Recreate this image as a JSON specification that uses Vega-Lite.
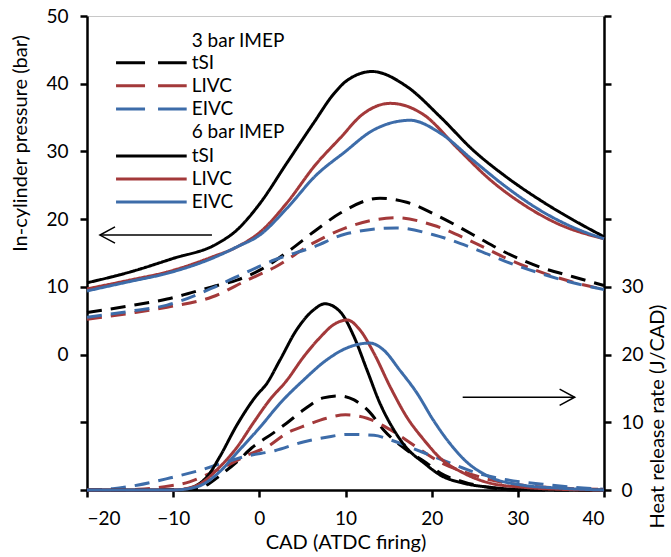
{
  "$schema": "https://vega.github.io/schema/vega-lite/v6.json",
  "width": 517,
  "height": 474,
  "autosize": {"type": "none"},
  "padding": {"left": 87, "top": 16, "right": 67, "bottom": 67},
  "background": "white",
  "config": {
    "view": {"stroke": "#C8C8C8", "strokeWidth": 1},
    "font": "Lato",
    "axis": {
      "labelFont": "Lato", "labelFontSize": 19, "labelColor": "#000000",
      "titleFont": "Lato", "titleFontSize": 20, "titleFontWeight": "normal", "titleColor": "#000000",
      "domainColor": "#000000", "domainWidth": 2.5, "tickColor": "#000000", "tickWidth": 2.5, "tickSize": 7,
      "grid": false
    }
  },
  "datasets": {
    "pressure": [
      {"s": "3 bar tSI", "c": "tSI", "load": "3 bar IMEP", "x": -20, "v": 6.2},
      {"s": "3 bar tSI", "c": "tSI", "load": "3 bar IMEP", "x": -15, "v": 7.2},
      {"s": "3 bar tSI", "c": "tSI", "load": "3 bar IMEP", "x": -10.7, "v": 8.2},
      {"s": "3 bar tSI", "c": "tSI", "load": "3 bar IMEP", "x": -5.5, "v": 10.0},
      {"s": "3 bar tSI", "c": "tSI", "load": "3 bar IMEP", "x": -2.6, "v": 11.0},
      {"s": "3 bar tSI", "c": "tSI", "load": "3 bar IMEP", "x": 0.1, "v": 12.5},
      {"s": "3 bar tSI", "c": "tSI", "load": "3 bar IMEP", "x": 3.2, "v": 15.1},
      {"s": "3 bar tSI", "c": "tSI", "load": "3 bar IMEP", "x": 6.6, "v": 18.4},
      {"s": "3 bar tSI", "c": "tSI", "load": "3 bar IMEP", "x": 9.4, "v": 20.9},
      {"s": "3 bar tSI", "c": "tSI", "load": "3 bar IMEP", "x": 14, "v": 23.1},
      {"s": "3 bar tSI", "c": "tSI", "load": "3 bar IMEP", "x": 17.1, "v": 22.5},
      {"s": "3 bar tSI", "c": "tSI", "load": "3 bar IMEP", "x": 21, "v": 20.3},
      {"s": "3 bar tSI", "c": "tSI", "load": "3 bar IMEP", "x": 24.8, "v": 17.7},
      {"s": "3 bar tSI", "c": "tSI", "load": "3 bar IMEP", "x": 28.7, "v": 15.0},
      {"s": "3 bar tSI", "c": "tSI", "load": "3 bar IMEP", "x": 32.6, "v": 12.9},
      {"s": "3 bar tSI", "c": "tSI", "load": "3 bar IMEP", "x": 36.4, "v": 11.5},
      {"s": "3 bar tSI", "c": "tSI", "load": "3 bar IMEP", "x": 40, "v": 10.2},

      {"s": "3 bar LIVC", "c": "LIVC", "load": "3 bar IMEP", "x": -20, "v": 5.2},
      {"s": "3 bar LIVC", "c": "LIVC", "load": "3 bar IMEP", "x": -15, "v": 6.1},
      {"s": "3 bar LIVC", "c": "LIVC", "load": "3 bar IMEP", "x": -10.7, "v": 7.0},
      {"s": "3 bar LIVC", "c": "LIVC", "load": "3 bar IMEP", "x": -5.5, "v": 8.5},
      {"s": "3 bar LIVC", "c": "LIVC", "load": "3 bar IMEP", "x": -1.4, "v": 11.0},
      {"s": "3 bar LIVC", "c": "LIVC", "load": "3 bar IMEP", "x": 1.8, "v": 12.9},
      {"s": "3 bar LIVC", "c": "LIVC", "load": "3 bar IMEP", "x": 6.3, "v": 16.5},
      {"s": "3 bar LIVC", "c": "LIVC", "load": "3 bar IMEP", "x": 9.8, "v": 18.6},
      {"s": "3 bar LIVC", "c": "LIVC", "load": "3 bar IMEP", "x": 15.9, "v": 20.2},
      {"s": "3 bar LIVC", "c": "LIVC", "load": "3 bar IMEP", "x": 20.2, "v": 19.1},
      {"s": "3 bar LIVC", "c": "LIVC", "load": "3 bar IMEP", "x": 24.8, "v": 16.6},
      {"s": "3 bar LIVC", "c": "LIVC", "load": "3 bar IMEP", "x": 28.7, "v": 14.2},
      {"s": "3 bar LIVC", "c": "LIVC", "load": "3 bar IMEP", "x": 32.6, "v": 12.2},
      {"s": "3 bar LIVC", "c": "LIVC", "load": "3 bar IMEP", "x": 36.4, "v": 10.7},
      {"s": "3 bar LIVC", "c": "LIVC", "load": "3 bar IMEP", "x": 40, "v": 9.6},

      {"s": "3 bar EIVC", "c": "EIVC", "load": "3 bar IMEP", "x": -20, "v": 5.5},
      {"s": "3 bar EIVC", "c": "EIVC", "load": "3 bar IMEP", "x": -15, "v": 6.4},
      {"s": "3 bar EIVC", "c": "EIVC", "load": "3 bar IMEP", "x": -10.7, "v": 7.3},
      {"s": "3 bar EIVC", "c": "EIVC", "load": "3 bar IMEP", "x": -5.5, "v": 9.8},
      {"s": "3 bar EIVC", "c": "EIVC", "load": "3 bar IMEP", "x": -2.6, "v": 11.5},
      {"s": "3 bar EIVC", "c": "EIVC", "load": "3 bar IMEP", "x": 1.8, "v": 14.0},
      {"s": "3 bar EIVC", "c": "EIVC", "load": "3 bar IMEP", "x": 6.3, "v": 15.9},
      {"s": "3 bar EIVC", "c": "EIVC", "load": "3 bar IMEP", "x": 10, "v": 17.8},
      {"s": "3 bar EIVC", "c": "EIVC", "load": "3 bar IMEP", "x": 15.9, "v": 18.7},
      {"s": "3 bar EIVC", "c": "EIVC", "load": "3 bar IMEP", "x": 20.2, "v": 17.7},
      {"s": "3 bar EIVC", "c": "EIVC", "load": "3 bar IMEP", "x": 24.8, "v": 15.7},
      {"s": "3 bar EIVC", "c": "EIVC", "load": "3 bar IMEP", "x": 28.7, "v": 13.7},
      {"s": "3 bar EIVC", "c": "EIVC", "load": "3 bar IMEP", "x": 32.6, "v": 12.0},
      {"s": "3 bar EIVC", "c": "EIVC", "load": "3 bar IMEP", "x": 36.4, "v": 10.6},
      {"s": "3 bar EIVC", "c": "EIVC", "load": "3 bar IMEP", "x": 40, "v": 9.6},

      {"s": "6 bar tSI", "c": "tSI", "load": "6 bar IMEP", "x": -20, "v": 10.6},
      {"s": "6 bar tSI", "c": "tSI", "load": "6 bar IMEP", "x": -15, "v": 12.2},
      {"s": "6 bar tSI", "c": "tSI", "load": "6 bar IMEP", "x": -10, "v": 14.2},
      {"s": "6 bar tSI", "c": "tSI", "load": "6 bar IMEP", "x": -5, "v": 16.3},
      {"s": "6 bar tSI", "c": "tSI", "load": "6 bar IMEP", "x": -2.6, "v": 18.4},
      {"s": "6 bar tSI", "c": "tSI", "load": "6 bar IMEP", "x": 0, "v": 22.2},
      {"s": "6 bar tSI", "c": "tSI", "load": "6 bar IMEP", "x": 3.2, "v": 28.3},
      {"s": "6 bar tSI", "c": "tSI", "load": "6 bar IMEP", "x": 6.3, "v": 34.2},
      {"s": "6 bar tSI", "c": "tSI", "load": "6 bar IMEP", "x": 8.7, "v": 38.6},
      {"s": "6 bar tSI", "c": "tSI", "load": "6 bar IMEP", "x": 10.2, "v": 40.5},
      {"s": "6 bar tSI", "c": "tSI", "load": "6 bar IMEP", "x": 13.1, "v": 41.8},
      {"s": "6 bar tSI", "c": "tSI", "load": "6 bar IMEP", "x": 17.1, "v": 39.6},
      {"s": "6 bar tSI", "c": "tSI", "load": "6 bar IMEP", "x": 21, "v": 35.1},
      {"s": "6 bar tSI", "c": "tSI", "load": "6 bar IMEP", "x": 24.8, "v": 30.2},
      {"s": "6 bar tSI", "c": "tSI", "load": "6 bar IMEP", "x": 28.7, "v": 26.2},
      {"s": "6 bar tSI", "c": "tSI", "load": "6 bar IMEP", "x": 32.6, "v": 22.8},
      {"s": "6 bar tSI", "c": "tSI", "load": "6 bar IMEP", "x": 36.4, "v": 19.9},
      {"s": "6 bar tSI", "c": "tSI", "load": "6 bar IMEP", "x": 40, "v": 17.4},

      {"s": "6 bar LIVC", "c": "LIVC", "load": "6 bar IMEP", "x": -20, "v": 9.7},
      {"s": "6 bar LIVC", "c": "LIVC", "load": "6 bar IMEP", "x": -15, "v": 11.0},
      {"s": "6 bar LIVC", "c": "LIVC", "load": "6 bar IMEP", "x": -10.7, "v": 12.2},
      {"s": "6 bar LIVC", "c": "LIVC", "load": "6 bar IMEP", "x": -5.5, "v": 14.4},
      {"s": "6 bar LIVC", "c": "LIVC", "load": "6 bar IMEP", "x": -2.6, "v": 15.9},
      {"s": "6 bar LIVC", "c": "LIVC", "load": "6 bar IMEP", "x": 0.1, "v": 18.1},
      {"s": "6 bar LIVC", "c": "LIVC", "load": "6 bar IMEP", "x": 3.2, "v": 22.4},
      {"s": "6 bar LIVC", "c": "LIVC", "load": "6 bar IMEP", "x": 6.5, "v": 28.0},
      {"s": "6 bar LIVC", "c": "LIVC", "load": "6 bar IMEP", "x": 9.4, "v": 32.0},
      {"s": "6 bar LIVC", "c": "LIVC", "load": "6 bar IMEP", "x": 12, "v": 35.5},
      {"s": "6 bar LIVC", "c": "LIVC", "load": "6 bar IMEP", "x": 15.2, "v": 37.1},
      {"s": "6 bar LIVC", "c": "LIVC", "load": "6 bar IMEP", "x": 19.1, "v": 35.4},
      {"s": "6 bar LIVC", "c": "LIVC", "load": "6 bar IMEP", "x": 22.9, "v": 30.6},
      {"s": "6 bar LIVC", "c": "LIVC", "load": "6 bar IMEP", "x": 26.8, "v": 25.8},
      {"s": "6 bar LIVC", "c": "LIVC", "load": "6 bar IMEP", "x": 30.6, "v": 22.2},
      {"s": "6 bar LIVC", "c": "LIVC", "load": "6 bar IMEP", "x": 34.5, "v": 19.4},
      {"s": "6 bar LIVC", "c": "LIVC", "load": "6 bar IMEP", "x": 40, "v": 17.1},

      {"s": "6 bar EIVC", "c": "EIVC", "load": "6 bar IMEP", "x": -20, "v": 9.4},
      {"s": "6 bar EIVC", "c": "EIVC", "load": "6 bar IMEP", "x": -15, "v": 10.8},
      {"s": "6 bar EIVC", "c": "EIVC", "load": "6 bar IMEP", "x": -10.7, "v": 12.0},
      {"s": "6 bar EIVC", "c": "EIVC", "load": "6 bar IMEP", "x": -5.5, "v": 14.2},
      {"s": "6 bar EIVC", "c": "EIVC", "load": "6 bar IMEP", "x": -2.6, "v": 15.9},
      {"s": "6 bar EIVC", "c": "EIVC", "load": "6 bar IMEP", "x": 0.1, "v": 17.7},
      {"s": "6 bar EIVC", "c": "EIVC", "load": "6 bar IMEP", "x": 3.2, "v": 21.6},
      {"s": "6 bar EIVC", "c": "EIVC", "load": "6 bar IMEP", "x": 6.6, "v": 26.5},
      {"s": "6 bar EIVC", "c": "EIVC", "load": "6 bar IMEP", "x": 9.8, "v": 29.8},
      {"s": "6 bar EIVC", "c": "EIVC", "load": "6 bar IMEP", "x": 13.3, "v": 33.2},
      {"s": "6 bar EIVC", "c": "EIVC", "load": "6 bar IMEP", "x": 17.5, "v": 34.6},
      {"s": "6 bar EIVC", "c": "EIVC", "load": "6 bar IMEP", "x": 21, "v": 32.7},
      {"s": "6 bar EIVC", "c": "EIVC", "load": "6 bar IMEP", "x": 24.8, "v": 28.7},
      {"s": "6 bar EIVC", "c": "EIVC", "load": "6 bar IMEP", "x": 28.7, "v": 24.7},
      {"s": "6 bar EIVC", "c": "EIVC", "load": "6 bar IMEP", "x": 32.6, "v": 21.3},
      {"s": "6 bar EIVC", "c": "EIVC", "load": "6 bar IMEP", "x": 36.4, "v": 18.8},
      {"s": "6 bar EIVC", "c": "EIVC", "load": "6 bar IMEP", "x": 40, "v": 17.1}
    ],
    "hrr": [
      {"s": "3 bar tSI", "c": "tSI", "load": "3 bar IMEP", "x": -20, "v": 0},
      {"s": "3 bar tSI", "c": "tSI", "load": "3 bar IMEP", "x": -8, "v": 0.1},
      {"s": "3 bar tSI", "c": "tSI", "load": "3 bar IMEP", "x": -6, "v": 0.8},
      {"s": "3 bar tSI", "c": "tSI", "load": "3 bar IMEP", "x": -4.6, "v": 2.1},
      {"s": "3 bar tSI", "c": "tSI", "load": "3 bar IMEP", "x": -2.4, "v": 4.4},
      {"s": "3 bar tSI", "c": "tSI", "load": "3 bar IMEP", "x": -0.9, "v": 6.2},
      {"s": "3 bar tSI", "c": "tSI", "load": "3 bar IMEP", "x": 1.6, "v": 8.4},
      {"s": "3 bar tSI", "c": "tSI", "load": "3 bar IMEP", "x": 3.2, "v": 9.9},
      {"s": "3 bar tSI", "c": "tSI", "load": "3 bar IMEP", "x": 5.1, "v": 11.8},
      {"s": "3 bar tSI", "c": "tSI", "load": "3 bar IMEP", "x": 7.4, "v": 13.6},
      {"s": "3 bar tSI", "c": "tSI", "load": "3 bar IMEP", "x": 9.2, "v": 13.9},
      {"s": "3 bar tSI", "c": "tSI", "load": "3 bar IMEP", "x": 11, "v": 13.3},
      {"s": "3 bar tSI", "c": "tSI", "load": "3 bar IMEP", "x": 12.8, "v": 11.5},
      {"s": "3 bar tSI", "c": "tSI", "load": "3 bar IMEP", "x": 14.4, "v": 8.9},
      {"s": "3 bar tSI", "c": "tSI", "load": "3 bar IMEP", "x": 17.1, "v": 5.9},
      {"s": "3 bar tSI", "c": "tSI", "load": "3 bar IMEP", "x": 19.4, "v": 4.0},
      {"s": "3 bar tSI", "c": "tSI", "load": "3 bar IMEP", "x": 21, "v": 2.5},
      {"s": "3 bar tSI", "c": "tSI", "load": "3 bar IMEP", "x": 23.7, "v": 1.2},
      {"s": "3 bar tSI", "c": "tSI", "load": "3 bar IMEP", "x": 27, "v": 0.3},
      {"s": "3 bar tSI", "c": "tSI", "load": "3 bar IMEP", "x": 30, "v": 0},
      {"s": "3 bar tSI", "c": "tSI", "load": "3 bar IMEP", "x": 40, "v": 0},

      {"s": "3 bar LIVC", "c": "LIVC", "load": "3 bar IMEP", "x": -20, "v": 0},
      {"s": "3 bar LIVC", "c": "LIVC", "load": "3 bar IMEP", "x": -14, "v": 0.1},
      {"s": "3 bar LIVC", "c": "LIVC", "load": "3 bar IMEP", "x": -11, "v": 0.5},
      {"s": "3 bar LIVC", "c": "LIVC", "load": "3 bar IMEP", "x": -8.1, "v": 1.2},
      {"s": "3 bar LIVC", "c": "LIVC", "load": "3 bar IMEP", "x": -6.2, "v": 2.2},
      {"s": "3 bar LIVC", "c": "LIVC", "load": "3 bar IMEP", "x": -3.6, "v": 3.7},
      {"s": "3 bar LIVC", "c": "LIVC", "load": "3 bar IMEP", "x": -1.3, "v": 5.2},
      {"s": "3 bar LIVC", "c": "LIVC", "load": "3 bar IMEP", "x": 0.8, "v": 6.3},
      {"s": "3 bar LIVC", "c": "LIVC", "load": "3 bar IMEP", "x": 3.2, "v": 8.4},
      {"s": "3 bar LIVC", "c": "LIVC", "load": "3 bar IMEP", "x": 5.5, "v": 9.6},
      {"s": "3 bar LIVC", "c": "LIVC", "load": "3 bar IMEP", "x": 7.8, "v": 10.6},
      {"s": "3 bar LIVC", "c": "LIVC", "load": "3 bar IMEP", "x": 10, "v": 11.1},
      {"s": "3 bar LIVC", "c": "LIVC", "load": "3 bar IMEP", "x": 12.5, "v": 10.6},
      {"s": "3 bar LIVC", "c": "LIVC", "load": "3 bar IMEP", "x": 15.2, "v": 8.9},
      {"s": "3 bar LIVC", "c": "LIVC", "load": "3 bar IMEP", "x": 19.1, "v": 5.6},
      {"s": "3 bar LIVC", "c": "LIVC", "load": "3 bar IMEP", "x": 21, "v": 4.1},
      {"s": "3 bar LIVC", "c": "LIVC", "load": "3 bar IMEP", "x": 23.7, "v": 2.7},
      {"s": "3 bar LIVC", "c": "LIVC", "load": "3 bar IMEP", "x": 26.8, "v": 1.5},
      {"s": "3 bar LIVC", "c": "LIVC", "load": "3 bar IMEP", "x": 30.6, "v": 0.7},
      {"s": "3 bar LIVC", "c": "LIVC", "load": "3 bar IMEP", "x": 34.5, "v": 0.3},
      {"s": "3 bar LIVC", "c": "LIVC", "load": "3 bar IMEP", "x": 40, "v": 0.1},

      {"s": "3 bar EIVC", "c": "EIVC", "load": "3 bar IMEP", "x": -20, "v": 0},
      {"s": "3 bar EIVC", "c": "EIVC", "load": "3 bar IMEP", "x": -17, "v": 0.2},
      {"s": "3 bar EIVC", "c": "EIVC", "load": "3 bar IMEP", "x": -14.2, "v": 0.7},
      {"s": "3 bar EIVC", "c": "EIVC", "load": "3 bar IMEP", "x": -10.3, "v": 1.8},
      {"s": "3 bar EIVC", "c": "EIVC", "load": "3 bar IMEP", "x": -7.2, "v": 2.8},
      {"s": "3 bar EIVC", "c": "EIVC", "load": "3 bar IMEP", "x": -4.2, "v": 4.0},
      {"s": "3 bar EIVC", "c": "EIVC", "load": "3 bar IMEP", "x": -1.5, "v": 5.0},
      {"s": "3 bar EIVC", "c": "EIVC", "load": "3 bar IMEP", "x": 1.8, "v": 5.8},
      {"s": "3 bar EIVC", "c": "EIVC", "load": "3 bar IMEP", "x": 5.1, "v": 7.1},
      {"s": "3 bar EIVC", "c": "EIVC", "load": "3 bar IMEP", "x": 7.8, "v": 7.8},
      {"s": "3 bar EIVC", "c": "EIVC", "load": "3 bar IMEP", "x": 10.2, "v": 8.2},
      {"s": "3 bar EIVC", "c": "EIVC", "load": "3 bar IMEP", "x": 13.3, "v": 8.1},
      {"s": "3 bar EIVC", "c": "EIVC", "load": "3 bar IMEP", "x": 15.2, "v": 7.4},
      {"s": "3 bar EIVC", "c": "EIVC", "load": "3 bar IMEP", "x": 19.1, "v": 5.5},
      {"s": "3 bar EIVC", "c": "EIVC", "load": "3 bar IMEP", "x": 22.1, "v": 4.0},
      {"s": "3 bar EIVC", "c": "EIVC", "load": "3 bar IMEP", "x": 24.8, "v": 2.7},
      {"s": "3 bar EIVC", "c": "EIVC", "load": "3 bar IMEP", "x": 28.7, "v": 1.5},
      {"s": "3 bar EIVC", "c": "EIVC", "load": "3 bar IMEP", "x": 32.6, "v": 0.9},
      {"s": "3 bar EIVC", "c": "EIVC", "load": "3 bar IMEP", "x": 36.4, "v": 0.4},
      {"s": "3 bar EIVC", "c": "EIVC", "load": "3 bar IMEP", "x": 40, "v": 0.1},

      {"s": "6 bar tSI", "c": "tSI", "load": "6 bar IMEP", "x": -20, "v": 0},
      {"s": "6 bar tSI", "c": "tSI", "load": "6 bar IMEP", "x": -10, "v": 0},
      {"s": "6 bar tSI", "c": "tSI", "load": "6 bar IMEP", "x": -8.7, "v": 0.1},
      {"s": "6 bar tSI", "c": "tSI", "load": "6 bar IMEP", "x": -6.1, "v": 1.9},
      {"s": "6 bar tSI", "c": "tSI", "load": "6 bar IMEP", "x": -4.6, "v": 4.9},
      {"s": "6 bar tSI", "c": "tSI", "load": "6 bar IMEP", "x": -2.6, "v": 9.6},
      {"s": "6 bar tSI", "c": "tSI", "load": "6 bar IMEP", "x": -0.3, "v": 14.0},
      {"s": "6 bar tSI", "c": "tSI", "load": "6 bar IMEP", "x": 0.8, "v": 15.6},
      {"s": "6 bar tSI", "c": "tSI", "load": "6 bar IMEP", "x": 2.4, "v": 19.2},
      {"s": "6 bar tSI", "c": "tSI", "load": "6 bar IMEP", "x": 4.3, "v": 23.6},
      {"s": "6 bar tSI", "c": "tSI", "load": "6 bar IMEP", "x": 6.3, "v": 26.6},
      {"s": "6 bar tSI", "c": "tSI", "load": "6 bar IMEP", "x": 7.6, "v": 27.5},
      {"s": "6 bar tSI", "c": "tSI", "load": "6 bar IMEP", "x": 9.4, "v": 26.3},
      {"s": "6 bar tSI", "c": "tSI", "load": "6 bar IMEP", "x": 11, "v": 22.6},
      {"s": "6 bar tSI", "c": "tSI", "load": "6 bar IMEP", "x": 12.5, "v": 17.7},
      {"s": "6 bar tSI", "c": "tSI", "load": "6 bar IMEP", "x": 14, "v": 12.8},
      {"s": "6 bar tSI", "c": "tSI", "load": "6 bar IMEP", "x": 15.6, "v": 8.9},
      {"s": "6 bar tSI", "c": "tSI", "load": "6 bar IMEP", "x": 17.1, "v": 6.2},
      {"s": "6 bar tSI", "c": "tSI", "load": "6 bar IMEP", "x": 19.1, "v": 4.0},
      {"s": "6 bar tSI", "c": "tSI", "load": "6 bar IMEP", "x": 21, "v": 2.2},
      {"s": "6 bar tSI", "c": "tSI", "load": "6 bar IMEP", "x": 23.7, "v": 1.0},
      {"s": "6 bar tSI", "c": "tSI", "load": "6 bar IMEP", "x": 26.8, "v": 0.4},
      {"s": "6 bar tSI", "c": "tSI", "load": "6 bar IMEP", "x": 30, "v": 0.1},
      {"s": "6 bar tSI", "c": "tSI", "load": "6 bar IMEP", "x": 40, "v": 0},

      {"s": "6 bar LIVC", "c": "LIVC", "load": "6 bar IMEP", "x": -20, "v": 0},
      {"s": "6 bar LIVC", "c": "LIVC", "load": "6 bar IMEP", "x": -10, "v": 0},
      {"s": "6 bar LIVC", "c": "LIVC", "load": "6 bar IMEP", "x": -7.2, "v": 0.7},
      {"s": "6 bar LIVC", "c": "LIVC", "load": "6 bar IMEP", "x": -4.6, "v": 3.4},
      {"s": "6 bar LIVC", "c": "LIVC", "load": "6 bar IMEP", "x": -2.6, "v": 6.3},
      {"s": "6 bar LIVC", "c": "LIVC", "load": "6 bar IMEP", "x": -0.7, "v": 9.9},
      {"s": "6 bar LIVC", "c": "LIVC", "load": "6 bar IMEP", "x": 1.2, "v": 13.3},
      {"s": "6 bar LIVC", "c": "LIVC", "load": "6 bar IMEP", "x": 3.2, "v": 16.2},
      {"s": "6 bar LIVC", "c": "LIVC", "load": "6 bar IMEP", "x": 5.1, "v": 19.6},
      {"s": "6 bar LIVC", "c": "LIVC", "load": "6 bar IMEP", "x": 7.1, "v": 22.6},
      {"s": "6 bar LIVC", "c": "LIVC", "load": "6 bar IMEP", "x": 8.6, "v": 24.4},
      {"s": "6 bar LIVC", "c": "LIVC", "load": "6 bar IMEP", "x": 10.2, "v": 25.1},
      {"s": "6 bar LIVC", "c": "LIVC", "load": "6 bar IMEP", "x": 11.7, "v": 23.6},
      {"s": "6 bar LIVC", "c": "LIVC", "load": "6 bar IMEP", "x": 13.3, "v": 20.2},
      {"s": "6 bar LIVC", "c": "LIVC", "load": "6 bar IMEP", "x": 15.2, "v": 15.2},
      {"s": "6 bar LIVC", "c": "LIVC", "load": "6 bar IMEP", "x": 17.1, "v": 10.8},
      {"s": "6 bar LIVC", "c": "LIVC", "load": "6 bar IMEP", "x": 19.1, "v": 7.4},
      {"s": "6 bar LIVC", "c": "LIVC", "load": "6 bar IMEP", "x": 21, "v": 4.7},
      {"s": "6 bar LIVC", "c": "LIVC", "load": "6 bar IMEP", "x": 23.7, "v": 2.5},
      {"s": "6 bar LIVC", "c": "LIVC", "load": "6 bar IMEP", "x": 26.8, "v": 1.0},
      {"s": "6 bar LIVC", "c": "LIVC", "load": "6 bar IMEP", "x": 30.6, "v": 0.4},
      {"s": "6 bar LIVC", "c": "LIVC", "load": "6 bar IMEP", "x": 35, "v": 0.1},
      {"s": "6 bar LIVC", "c": "LIVC", "load": "6 bar IMEP", "x": 40, "v": 0},

      {"s": "6 bar EIVC", "c": "EIVC", "load": "6 bar IMEP", "x": -20, "v": 0},
      {"s": "6 bar EIVC", "c": "EIVC", "load": "6 bar IMEP", "x": -10, "v": 0},
      {"s": "6 bar EIVC", "c": "EIVC", "load": "6 bar IMEP", "x": -7.2, "v": 0.5},
      {"s": "6 bar EIVC", "c": "EIVC", "load": "6 bar IMEP", "x": -4.6, "v": 2.7},
      {"s": "6 bar EIVC", "c": "EIVC", "load": "6 bar IMEP", "x": -2.6, "v": 5.5},
      {"s": "6 bar EIVC", "c": "EIVC", "load": "6 bar IMEP", "x": 0.1, "v": 9.3},
      {"s": "6 bar EIVC", "c": "EIVC", "load": "6 bar IMEP", "x": 2.4, "v": 12.8},
      {"s": "6 bar EIVC", "c": "EIVC", "load": "6 bar IMEP", "x": 5.1, "v": 16.2},
      {"s": "6 bar EIVC", "c": "EIVC", "load": "6 bar IMEP", "x": 7.8, "v": 19.2},
      {"s": "6 bar EIVC", "c": "EIVC", "load": "6 bar IMEP", "x": 10.2, "v": 21.0},
      {"s": "6 bar EIVC", "c": "EIVC", "load": "6 bar IMEP", "x": 12.8, "v": 21.7},
      {"s": "6 bar EIVC", "c": "EIVC", "load": "6 bar IMEP", "x": 14.4, "v": 20.7},
      {"s": "6 bar EIVC", "c": "EIVC", "load": "6 bar IMEP", "x": 16.3, "v": 17.7},
      {"s": "6 bar EIVC", "c": "EIVC", "load": "6 bar IMEP", "x": 18.3, "v": 14.3},
      {"s": "6 bar EIVC", "c": "EIVC", "load": "6 bar IMEP", "x": 20.2, "v": 10.3},
      {"s": "6 bar EIVC", "c": "EIVC", "load": "6 bar IMEP", "x": 22.1, "v": 6.9},
      {"s": "6 bar EIVC", "c": "EIVC", "load": "6 bar IMEP", "x": 24.1, "v": 4.1},
      {"s": "6 bar EIVC", "c": "EIVC", "load": "6 bar IMEP", "x": 26.8, "v": 1.9},
      {"s": "6 bar EIVC", "c": "EIVC", "load": "6 bar IMEP", "x": 30.6, "v": 0.7},
      {"s": "6 bar EIVC", "c": "EIVC", "load": "6 bar IMEP", "x": 34.5, "v": 0.3},
      {"s": "6 bar EIVC", "c": "EIVC", "load": "6 bar IMEP", "x": 40, "v": 0}
    ],
    "legendLines": [
      {"s": "3 bar tSI", "c": "tSI", "load": "3 bar IMEP", "x": -16.63, "v": 43.1},
      {"s": "3 bar tSI", "c": "tSI", "load": "3 bar IMEP", "x": -8.43, "v": 43.1},
      {"s": "3 bar LIVC", "c": "LIVC", "load": "3 bar IMEP", "x": -16.63, "v": 39.71},
      {"s": "3 bar LIVC", "c": "LIVC", "load": "3 bar IMEP", "x": -8.43, "v": 39.71},
      {"s": "3 bar EIVC", "c": "EIVC", "load": "3 bar IMEP", "x": -16.63, "v": 36.27},
      {"s": "3 bar EIVC", "c": "EIVC", "load": "3 bar IMEP", "x": -8.43, "v": 36.27},
      {"s": "6 bar tSI", "c": "tSI", "load": "6 bar IMEP", "x": -16.63, "v": 29.32},
      {"s": "6 bar tSI", "c": "tSI", "load": "6 bar IMEP", "x": -8.43, "v": 29.32},
      {"s": "6 bar LIVC", "c": "LIVC", "load": "6 bar IMEP", "x": -16.63, "v": 25.93},
      {"s": "6 bar LIVC", "c": "LIVC", "load": "6 bar IMEP", "x": -8.43, "v": 25.93},
      {"s": "6 bar EIVC", "c": "EIVC", "load": "6 bar IMEP", "x": -16.63, "v": 22.53},
      {"s": "6 bar EIVC", "c": "EIVC", "load": "6 bar IMEP", "x": -8.43, "v": 22.53}
    ],
    "legendText": [
      {"t": "3 bar IMEP", "x": -7.85, "v": 46.35},
      {"t": "tSI", "x": -7.85, "v": 43.1},
      {"t": "LIVC", "x": -7.85, "v": 39.71},
      {"t": "EIVC", "x": -7.85, "v": 36.27},
      {"t": "6 bar IMEP", "x": -7.85, "v": 32.82},
      {"t": "tSI", "x": -7.85, "v": 29.32},
      {"t": "LIVC", "x": -7.85, "v": 25.93},
      {"t": "EIVC", "x": -7.85, "v": 22.53}
    ],
    "leftArrow": [
      {"part": "shaft", "k": 1, "x": -18.5, "v": 17.65},
      {"part": "shaft", "k": 2, "x": -5.5, "v": 17.65},
      {"part": "head", "k": 1, "x": -16.75, "v": 18.85},
      {"part": "head", "k": 2, "x": -18.5, "v": 17.65},
      {"part": "head", "k": 3, "x": -16.75, "v": 16.45}
    ],
    "rightArrow": [
      {"part": "shaft", "k": 1, "x": 23.6, "v": 13.7},
      {"part": "shaft", "k": 2, "x": 36.6, "v": 13.7},
      {"part": "head", "k": 1, "x": 34.85, "v": 14.9},
      {"part": "head", "k": 2, "x": 36.6, "v": 13.7},
      {"part": "head", "k": 3, "x": 34.85, "v": 12.5}
    ]
  },
  "layer": [
    {
      "encoding": {
        "x": {
          "field": "x", "type": "quantitative",
          "scale": {"domain": [-20, 40], "nice": false, "zero": false},
          "axis": {"values": [-20, -10, 0, 10, 20, 30, 40], "title": "CAD (ATDC firing)", "labelPadding": 12, "titlePadding": 4}
        },
        "y": {
          "field": "v", "type": "quantitative",
          "scale": {"domain": [-20, 50], "nice": false, "zero": false},
          "axis": {
            "orient": "left",
            "values": [-20, -10, 0, 10, 20, 30, 40, 50],
            "labelExpr": "datum.value < 0 ? '' : datum.label",
            "labelPadding": 12,
            "title": "In-cylinder pressure (bar)",
            "titleAngle": 270,
            "titleAlign": "center",
            "titleBaseline": "middle",
            "titleX": -67,
            "titleY": 127
          }
        }
      },
      "layer": [
        {
          "data": {"name": "pressure"},
          "mark": {"type": "line", "strokeWidth": 3, "interpolate": "monotone"},
          "encoding": {
            "color": {"field": "c", "type": "nominal", "scale": {"domain": ["tSI", "LIVC", "EIVC"], "range": ["#000000", "#A3393A", "#3D6CA9"]}, "legend": null},
            "strokeDash": {"field": "load", "type": "nominal", "scale": {"domain": ["3 bar IMEP", "6 bar IMEP"], "range": [[15, 9], [1, 0]]}, "legend": null},
            "detail": {"field": "s"}
          }
        },
        {
          "data": {"name": "legendLines"},
          "transform": [{"filter": "datum.load == '3 bar IMEP'"}],
          "mark": {"type": "line", "strokeWidth": 3, "strokeDash": [29, 13]},
          "encoding": {
            "color": {"field": "c", "type": "nominal", "legend": null},
            "detail": {"field": "s"}
          }
        },
        {
          "data": {"name": "legendLines"},
          "transform": [{"filter": "datum.load == '6 bar IMEP'"}],
          "mark": {"type": "line", "strokeWidth": 3},
          "encoding": {
            "color": {"field": "c", "type": "nominal", "legend": null},
            "detail": {"field": "s"}
          }
        },
        {
          "data": {"name": "legendText"},
          "mark": {"type": "text", "align": "left", "baseline": "middle", "font": "Lato", "fontSize": 19, "color": "#000000"},
          "encoding": {"text": {"field": "t"}}
        },
        {
          "data": {"name": "leftArrow"},
          "mark": {"type": "line", "strokeWidth": 1.5, "color": "#000000"},
          "encoding": {"detail": {"field": "part"}, "order": {"field": "k"}}
        }
      ]
    },
    {
      "encoding": {
        "x": {
          "field": "x", "type": "quantitative",
          "scale": {"domain": [-20, 40], "nice": false, "zero": false},
          "axis": {"values": [-20, -10, 0, 10, 20, 30, 40], "title": "CAD (ATDC firing)", "labelPadding": 12, "titlePadding": 4}
        },
        "y": {
          "field": "v", "type": "quantitative",
          "scale": {"domain": [0, 70], "nice": false, "zero": false},
          "axis": {
            "orient": "right",
            "values": [0, 10, 20, 30, 40, 50, 60, 70],
            "labelExpr": "datum.value > 30 ? '' : datum.label",
            "labelPadding": 10,
            "title": "Heat release rate (J/CAD)",
            "titleAngle": 270,
            "titleAlign": "center",
            "titleBaseline": "middle",
            "titleX": 53,
            "titleY": 400
          }
        }
      },
      "layer": [
        {
          "data": {"name": "hrr"},
          "mark": {"type": "line", "strokeWidth": 3, "interpolate": "monotone"},
          "encoding": {
            "color": {"field": "c", "type": "nominal", "scale": {"domain": ["tSI", "LIVC", "EIVC"], "range": ["#000000", "#A3393A", "#3D6CA9"]}, "legend": null},
            "strokeDash": {"field": "load", "type": "nominal", "scale": {"domain": ["3 bar IMEP", "6 bar IMEP"], "range": [[15, 9], [1, 0]]}, "legend": null},
            "detail": {"field": "s"}
          }
        },
        {
          "data": {"name": "rightArrow"},
          "mark": {"type": "line", "strokeWidth": 1.5, "color": "#000000"},
          "encoding": {"detail": {"field": "part"}, "order": {"field": "k"}}
        }
      ]
    }
  ],
  "resolve": {"scale": {"y": "independent"}}
}
